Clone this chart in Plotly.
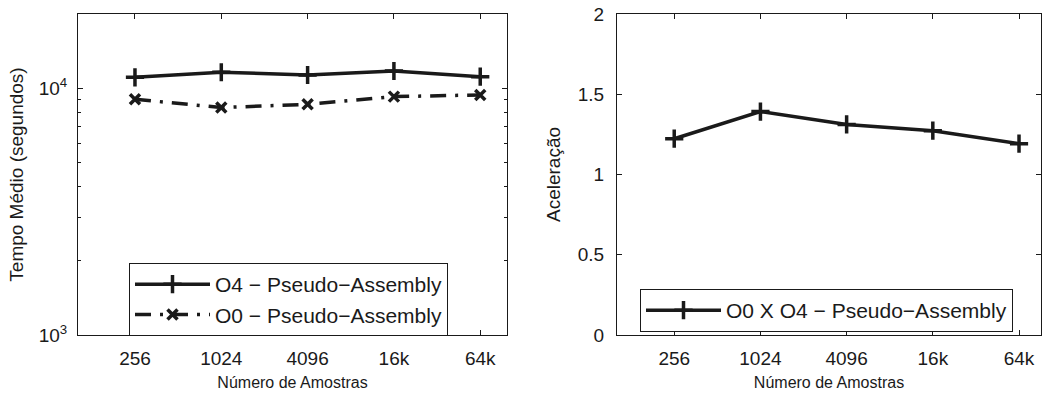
import plotly.graph_objects as go

samples = ["256", "1024", "4096", "16k", "64k"]
o4_time = [11080, 11610, 11320, 11750, 11140]
o0_time = [9030, 8350, 8610, 9250, 9400]
speedup = [1.223, 1.392, 1.312, 1.273, 1.192]

name_o4 = "O4 \u2212 Pseudo\u2212Assembly"
name_o0 = "O0 \u2212 Pseudo\u2212Assembly"
name_sp = "O0 X O4 \u2212 Pseudo\u2212Assembly"

black = "#1a1a1a"
FONT = "Liberation Sans, Arial, Helvetica, sans-serif"

fig = go.Figure()
fig.add_trace(go.Scatter(
    x=samples, y=o4_time, name=name_o4, mode="lines+markers",
    line=dict(color=black, width=3.5),
    marker=dict(symbol="cross-thin-open", size=13, line=dict(color=black, width=3.5)),
    xaxis="x", yaxis="y", legend="legend"))
fig.add_trace(go.Scatter(
    x=samples, y=o0_time, name=name_o0, mode="lines+markers",
    line=dict(color=black, width=3.5, dash="16px,9px,3px,9px"),
    marker=dict(symbol="x-thin-open", size=10, line=dict(color=black, width=3.5)),
    xaxis="x", yaxis="y", legend="legend"))
fig.add_trace(go.Scatter(
    x=samples, y=speedup, name=name_sp, mode="lines+markers",
    line=dict(color=black, width=3.5),
    marker=dict(symbol="cross-thin-open", size=13, line=dict(color=black, width=3.5)),
    xaxis="x2", yaxis="y2", legend="legend2"))

# body margin is removed by post_script, so the figure fills the window
W, H = 1042, 396
left_x0, left_x1 = 78, 507
right_x0, right_x1 = 617, 1041
top_y, bot_y = 14, 335

ml = left_x0
mt = top_y
mr = W - right_x1
mb = H - bot_y
pw = W - ml - mr
ph = H - mt - mb


def px(x):
    return (x - left_x0) / pw


def py(y):
    return (bot_y - y) / ph


axis_common = dict(
    showline=True, linecolor=black, linewidth=1, mirror="ticks",
    ticks="inside", ticklen=5, tickcolor=black, tickwidth=1,
    showgrid=False, zeroline=False, ticklabeloverflow="allow", automargin=False,
    tickfont=dict(family=FONT, size=19, color=black),
)

minor_vals = [m * 10 ** e for e in (3, 4) for m in range(2, 10)]

xtitle = dict(text="Número de Amostras", font=dict(family=FONT, size=16, color=black), standoff=9)

fig.update_layout(
    width=W, height=H,
    margin=dict(l=ml, r=mr, t=mt, b=mb, autoexpand=False),
    plot_bgcolor="white", paper_bgcolor="white",
    font=dict(family=FONT, color=black),
    xaxis=dict(domain=[0, px(left_x1)], type="category", range=[-0.66, 4.31],
               title=xtitle, ticklabelstandoff=6, **axis_common),
    yaxis=dict(type="log", range=[3, 4.301],
               tickvals=[1000, 10000], ticktext=["10<sup>3</sup>", "10<sup>4</sup>"],
               minor=dict(tickvals=minor_vals, ticks="inside", ticklen=3, tickcolor=black),
               ticklabelstandoff=6,
               title=dict(text="Tempo Médio (segundos)", font=dict(family=FONT, size=19, color=black), standoff=10),
               **axis_common),
    xaxis2=dict(domain=[px(right_x0), 1], type="category", range=[-0.664, 4.255], anchor="y2",
                title=xtitle, ticklabelstandoff=6, **axis_common),
    yaxis2=dict(range=[0, 2], tickvals=[0, 0.5, 1, 1.5, 2], ticktext=["0", "0.5", "1", "1.5", "2"],
                anchor="x2", ticklabelstandoff=8,
                title=dict(text="Aceleração", font=dict(family=FONT, size=19, color=black), standoff=12),
                **axis_common),
    legend=dict(x=px(129), y=py(263), xanchor="left", yanchor="top",
                bordercolor=black, borderwidth=1, bgcolor="white",
                font=dict(family=FONT, size=21, color=black), itemwidth=75,
                tracegroupgap=0),
    legend2=dict(x=px(640), y=py(289), xanchor="left", yanchor="top",
                 bordercolor=black, borderwidth=1, bgcolor="white",
                 font=dict(family=FONT, size=21, color=black), itemwidth=75),
    showlegend=True,
)

fig.write_html("out.html",
               config={"displayModeBar": False},
               post_script="document.body.style.margin='0';document.body.style.overflow='hidden';")
